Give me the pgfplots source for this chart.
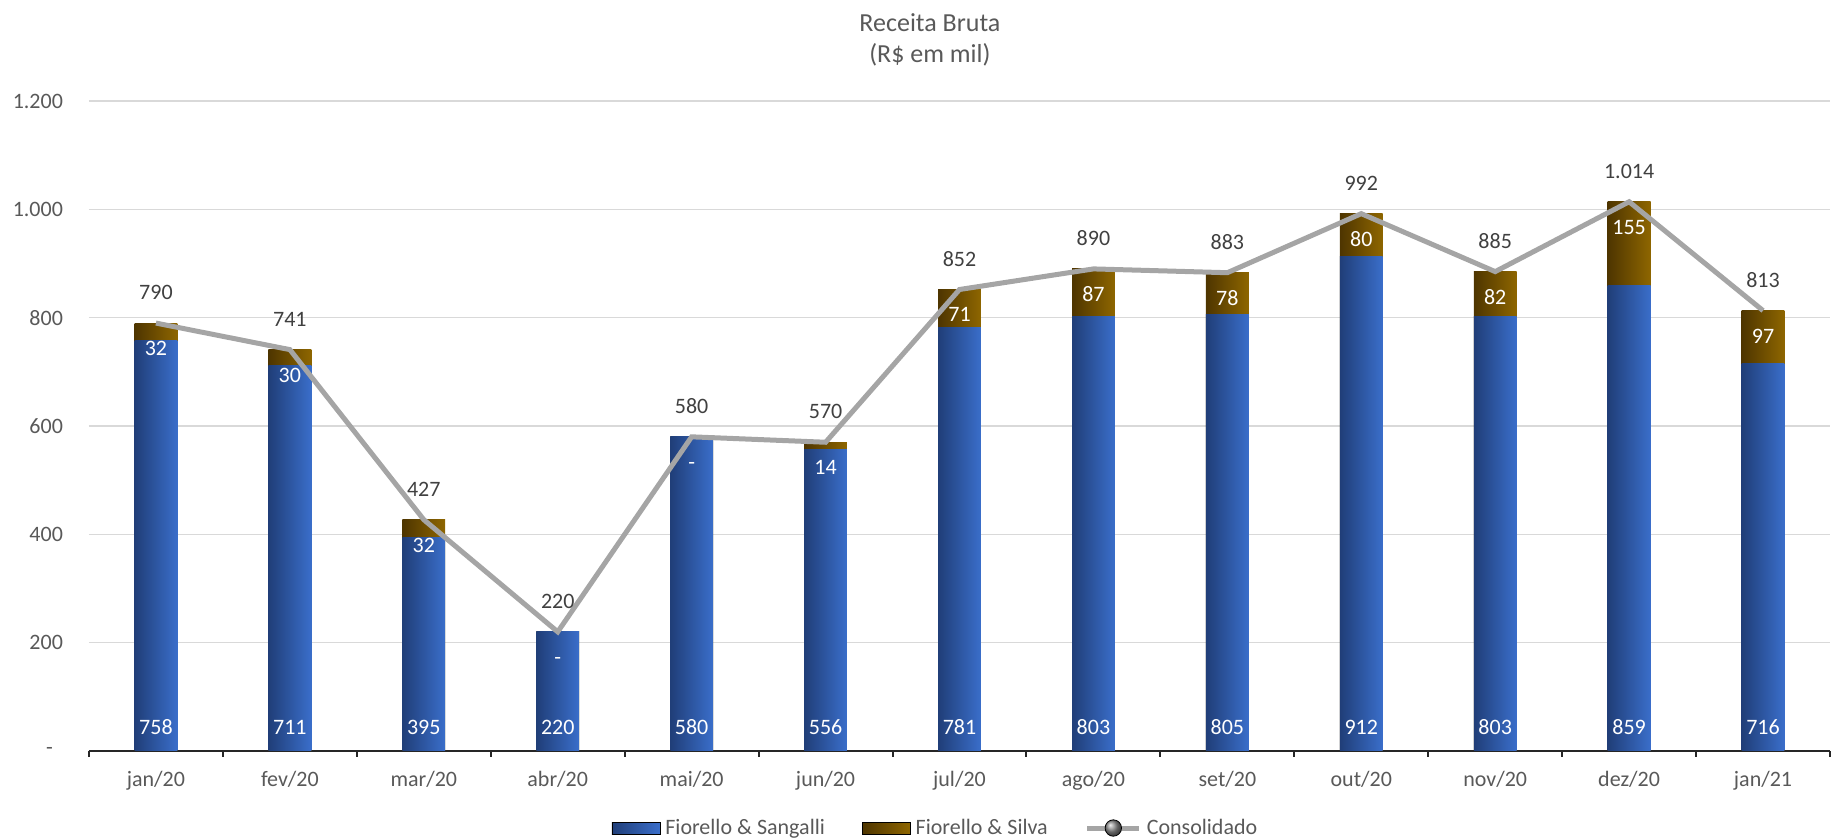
\documentclass[border=0pt]{standalone}
\usepackage{pgfplots}
\usepackage{pgfplotstable}
\pgfplotsset{compat=1.18}
\usepackage{fontspec}
\setmainfont{Carlito}

\definecolor{blueL}{RGB}{32,62,120}
\definecolor{blueR}{RGB}{58,110,202}
\definecolor{brownL}{RGB}{78,53,0}
\definecolor{brownR}{RGB}{142,102,0}
\definecolor{lineG}{RGB}{165,165,165}
\definecolor{txtG}{RGB}{89,89,89}
\definecolor{txtD}{RGB}{64,64,64}
\definecolor{gridG}{RGB}{217,217,217}

\newcommand{\lblfont}{\fontsize{11}{13}\selectfont}

% x  Fiorello&Sangalli  Fiorello&Silva  rotulos
\pgfplotstableread{
x  blue  brown  brownlbl  totallbl
0  758   32     32        790
1  711   30     30        741
2  395   32     32        427
3  220   0      -         220
4  580   0      -         580
5  556   14     14        570
6  781   71     71        852
7  803   87     87        890
8  805   78     78        883
9  912   80     80        992
10 803   82     82        885
11 859   155    155       1.014
12 716   97     97        813
}\receita

\begin{document}
\begin{tikzpicture}
\begin{axis}[
    scale only axis,
    width=870.5pt, height=325pt,
    xmin=-0.5, xmax=12.5, ymin=0, ymax=1200,
    clip=false,
    axis lines=left,
    axis line style={-},
    y axis line style={draw=none},
    x axis line style={line width=1pt, black!85},
    xtick={0,...,12},
    xticklabels={jan/20,fev/20,mar/20,abr/20,mai/20,jun/20,jul/20,ago/20,set/20,out/20,nov/20,dez/20,jan/21},
    major tick length=0pt,
    major x tick style={draw=none},
    minor xtick={-0.5,0.5,...,12.5},
    minor x tick style={line width=1pt, black!85},
    minor tick length=3pt,
    tick align=outside,
    ytick={0,200,...,1200},
    yticklabels={{-\kern5pt},200,400,600,800,1.000,1.200},
    ytick style={draw=none},
    ymajorgrids,
    grid style={line width=0.75pt, gridG},
    ticklabel style={font=\lblfont, text=txtG},
    xticklabel style={anchor=base, yshift=-18pt},
    yticklabel style={xshift=-9.5pt},
    legend columns=3,
    legend cell align=left,
    legend style={
        at={(axis description cs:0.4856,-0.1185)}, anchor=center,
        draw=none, fill=none,
        font=\lblfont, text=txtG,
        nodes={inner sep=0pt},
        /tikz/every odd column/.append style={column sep=2.5pt},
        /tikz/every even column/.append style={column sep=18.5pt},
    },
    bar/.style={ybar, bar width=21.4pt, bar shift=0pt, draw=none, forget plot},
]
\coordinate (O) at (rel axis cs:0,0);

\addlegendimage{legend image code/.code={\shade[left color=blueL, right color=blueR] (0pt,-3pt) rectangle (24pt,3pt);}}
\addlegendentry{Fiorello \& Sangalli}
\addlegendimage{legend image code/.code={\shade[left color=brownL, right color=brownR] (0pt,-3pt) rectangle (24pt,3pt);}}
\addlegendentry{Fiorello \& Silva}
\addlegendimage{legend image code/.code={\draw[lineG, line width=2.5pt] (0pt,0pt) -- (26pt,0pt); \shade[ball color=gray!90] (13pt,0pt) circle (4.1pt);}}
\addlegendentry{Consolidado}

% uma barra por vez, para que cada uma tenha o seu degrade
\pgfplotsinvokeforeach{0,...,12}{
  \addplot[bar, left color=brownL, right color=brownR, restrict x to domain=#1:#1]
    table[x=x, y expr=\thisrow{blue}+\thisrow{brown}] {\receita};
  \addplot[bar, left color=blueL, right color=blueR, restrict x to domain=#1:#1]
    table[x=x, y=blue] {\receita};
}

% Consolidado
\addplot[lineG, line width=2.5pt, mark=none, forget plot]
  table[x=x, y expr=\thisrow{blue}+\thisrow{brown}] {\receita};

% rotulos na base (Fiorello & Sangalli)
\addplot[draw=none, mark=none, forget plot, nodes near coords, point meta=explicit symbolic,
    every node near coord/.append style={anchor=base, yshift=8pt, font=\lblfont, text=white}]
  table[x=x, y expr=0, meta=blue] {\receita};

% rotulos no topo (Fiorello & Silva)
\addplot[draw=none, mark=none, forget plot, nodes near coords, point meta=explicit symbolic,
    every node near coord/.append style={anchor=base, yshift=-16.2pt, font=\lblfont, text=white}]
  table[x=x, y expr=\thisrow{blue}+\thisrow{brown}, meta=brownlbl] {\receita};

% rotulos da linha (Consolidado)
\addplot[draw=none, mark=none, forget plot, nodes near coords, point meta=explicit symbolic,
    every node near coord/.append style={anchor=base, yshift=11.7pt, font=\lblfont, text=txtD}]
  table[x=x, y expr=\thisrow{blue}+\thisrow{brown}, meta=totallbl] {\receita};

\node[anchor=base, font=\fontsize{13}{15}\selectfont, text=txtG] at (axis description cs:0.483,1.1066) {Receita Bruta};
\node[anchor=base, font=\fontsize{13}{15}\selectfont, text=txtG] at (axis description cs:0.483,1.0595) {(R\$ em mil)};
\end{axis}

\pgfresetboundingbox
\path ([shift={(-44.5pt,-44.5pt)}]O) rectangle ++(915.5pt,420pt);
\end{tikzpicture}
\end{document}
